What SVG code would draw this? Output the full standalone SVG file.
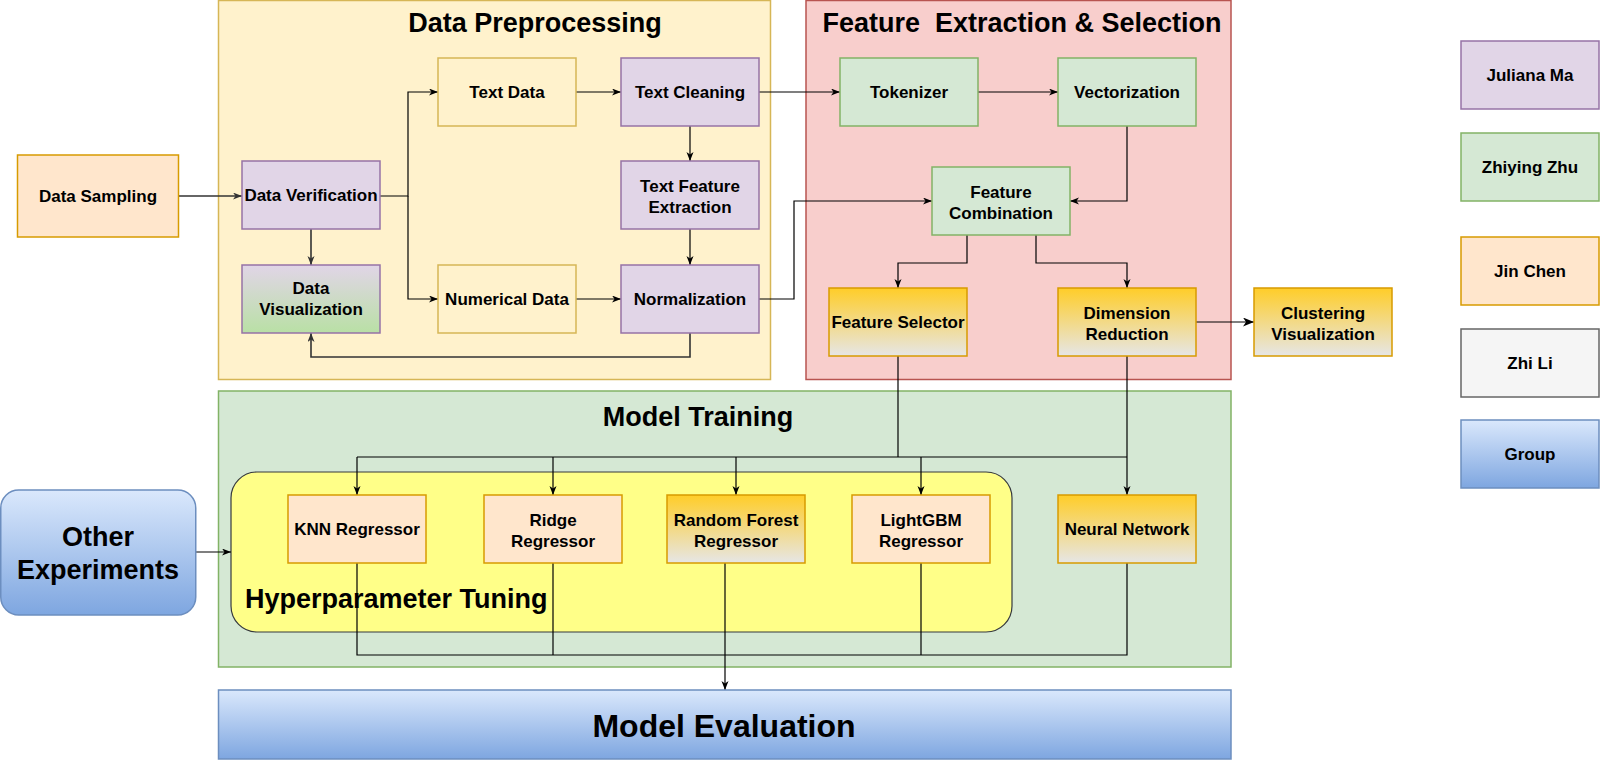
<svg xmlns="http://www.w3.org/2000/svg" width="1600" height="760" viewBox="0 0 1600 760">
<defs>
<linearGradient id="gGold" x1="0" y1="0" x2="0" y2="1"><stop offset="0" stop-color="#ffcd28"/><stop offset="1" stop-color="#e6e6e6"/></linearGradient>
<linearGradient id="gBlue" x1="0" y1="0" x2="0" y2="1"><stop offset="0" stop-color="#dae8fc"/><stop offset="1" stop-color="#7ea6e0"/></linearGradient>
<linearGradient id="gVis" x1="0" y1="0" x2="0" y2="1"><stop offset="0" stop-color="#e1d5e7"/><stop offset="1" stop-color="#b9e0a5"/></linearGradient>
<marker id="arr" markerWidth="10" markerHeight="8" refX="9" refY="3.5" orient="auto" markerUnits="userSpaceOnUse"><path d="M0,0 L9,3.5 L0,7 L2.5,3.5 Z" fill="#000"/></marker>
<marker id="arrG" markerWidth="10" markerHeight="8" refX="9" refY="3.5" orient="auto" markerUnits="userSpaceOnUse"><path d="M0,0 L9,3.5 L0,7 L2.5,3.5 Z" fill="#333"/></marker>
<marker id="arrB" markerWidth="12" markerHeight="10" refX="11" refY="4.5" orient="auto" markerUnits="userSpaceOnUse"><path d="M0,0 L11,4.5 L0,9 L3,4.5 Z" fill="#000"/></marker>
</defs>
<style>
text{font-family:"Liberation Sans",Arial,Helvetica,sans-serif;font-weight:bold;fill:#000;text-anchor:middle}
.n{font-size:17px}
.t{font-size:27px}
.purple{fill:#e1d5e7;stroke:#9673a6;stroke-width:1.5}
.green{fill:#d5e8d4;stroke:#82b366;stroke-width:1.5}
.orange{fill:#ffe6cc;stroke:#d79b00;stroke-width:1.5}
.ylw{fill:#fff2cc;stroke:#d6b656;stroke-width:1.5}
.gold{fill:url(#gGold);stroke:#d79b00;stroke-width:1.5}
.grey{fill:#f5f5f5;stroke:#666666;stroke-width:1.5}
.blue{fill:url(#gBlue);stroke:#6c8ebf;stroke-width:1.5}
.c{fill:none;stroke:#000;stroke-width:1.2}
.cg{fill:none;stroke:#333;stroke-width:1.6}
</style>

<g id="group-data-preprocessing">
<rect x="218.5" y="0.5" width="552" height="379" class="ylw"/>
<text class="t" x="535" y="32">Data Preprocessing</text>
</g>
<g id="group-feature-extraction">
<rect x="806" y="0.5" width="425" height="379" fill="#f8cecc" stroke="#b85450" stroke-width="1.5"/>
<text class="t" x="1022" y="32" xml:space="preserve">Feature  Extraction &amp; Selection</text>
</g>
<g id="group-model-training">
<rect x="218.5" y="391" width="1012.5" height="276" class="green"/>
<text class="t" x="698" y="426">Model Training</text>
</g>
<g id="group-hyperparameter-tuning">
<rect x="231" y="472" width="781" height="160" rx="26" ry="26" fill="#ffff88" stroke="#36393d" stroke-width="1.2"/>
<text class="t" x="245" y="608" style="text-anchor:start">Hyperparameter Tuning</text>
</g>

<g id="connectors">
<path class="cg" d="M178.6,196 L242,196" marker-end="url(#arrG)"/>
<path class="c" d="M380,196 L408,196 L408,92 L438,92" marker-end="url(#arr)"/>
<path class="c" d="M408,196 L408,299 L438,299" marker-end="url(#arr)"/>
<path class="cg" d="M311,229 L311,265" marker-end="url(#arrG)"/>
<path class="c" d="M576,92 L621,92" marker-end="url(#arr)"/>
<path class="c" d="M690,126 L690,161" marker-end="url(#arr)"/>
<path class="c" d="M690,229 L690,265" marker-end="url(#arr)"/>
<path class="c" d="M576,299 L621,299" marker-end="url(#arr)"/>
<path class="cg" d="M690,333 L690,357 L311,357 L311,333" marker-end="url(#arrG)"/>
<path class="c" d="M759,92 L840,92" marker-end="url(#arr)"/>
<path class="c" d="M978,92 L1058,92" marker-end="url(#arr)"/>
<path class="c" d="M1127,126 L1127,201 L1070,201" marker-end="url(#arr)"/>
<path class="c" d="M759,299 L794,299 L794,201 L932,201" marker-end="url(#arr)"/>
<path class="c" d="M967,235 L967,263 L898,263 L898,288" marker-end="url(#arr)"/>
<path class="c" d="M1036,235 L1036,263 L1127,263 L1127,288" marker-end="url(#arr)"/>
<path class="c" d="M1196,322 L1254,322" stroke-width="2" marker-end="url(#arrB)"/>
<path class="c" d="M898,356 L898,457"/>
<path class="c" d="M1127,356 L1127,495" marker-end="url(#arr)"/>
<path class="c" d="M357,457 L1127,457"/>
<path class="c" d="M357,457 L357,495" marker-end="url(#arr)"/>
<path class="c" d="M553,457 L553,495" marker-end="url(#arr)"/>
<path class="c" d="M736,457 L736,495" marker-end="url(#arr)"/>
<path class="c" d="M921,457 L921,495" marker-end="url(#arr)"/>
<path class="c" d="M357,563 L357,655 L1127,655 L1127,563"/>
<path class="c" d="M553,563 L553,655"/>
<path class="c" d="M921,563 L921,655"/>
<path class="c" d="M725,563 L725,690" marker-end="url(#arr)"/>
<path class="c" d="M196,552 L231,552" marker-end="url(#arr)"/>
</g>

<g id="node-data-sampling"><rect x="17.5" y="155" width="161" height="82" class="orange"/><text class="n" x="98" y="202">Data Sampling</text></g>
<g id="node-data-verification"><rect x="242" y="161" width="138" height="68" class="purple"/><text class="n" x="311" y="201">Data Verification</text></g>
<g id="node-data-visualization"><rect x="242" y="265" width="138" height="68" fill="url(#gVis)" stroke="#9673a6" stroke-width="1.5"/><text class="n" x="311" y="294">Data</text><text class="n" x="311" y="315">Visualization</text></g>
<g id="node-text-data"><rect x="438" y="58" width="138" height="68" class="ylw"/><text class="n" x="507" y="98">Text Data</text></g>
<g id="node-text-cleaning"><rect x="621" y="58" width="138" height="68" class="purple"/><text class="n" x="690" y="98">Text Cleaning</text></g>
<g id="node-text-feature-extraction"><rect x="621" y="161" width="138" height="68" class="purple"/><text class="n" x="690" y="192">Text Feature</text><text class="n" x="690" y="213">Extraction</text></g>
<g id="node-numerical-data"><rect x="438" y="265" width="138" height="68" class="ylw"/><text class="n" x="507" y="305">Numerical Data</text></g>
<g id="node-normalization"><rect x="621" y="265" width="138" height="68" class="purple"/><text class="n" x="690" y="305">Normalization</text></g>
<g id="node-tokenizer"><rect x="840" y="58" width="138" height="68" class="green"/><text class="n" x="909" y="98">Tokenizer</text></g>
<g id="node-vectorization"><rect x="1058" y="58" width="138" height="68" class="green"/><text class="n" x="1127" y="98">Vectorization</text></g>
<g id="node-feature-combination"><rect x="932" y="167" width="138" height="68" class="green"/><text class="n" x="1001" y="198">Feature</text><text class="n" x="1001" y="219">Combination</text></g>
<g id="node-feature-selector"><rect x="829" y="288" width="138" height="68" class="gold"/><text class="n" x="898" y="328">Feature Selector</text></g>
<g id="node-dimension-reduction"><rect x="1058" y="288" width="138" height="68" class="gold"/><text class="n" x="1127" y="319">Dimension</text><text class="n" x="1127" y="340">Reduction</text></g>
<g id="node-clustering-visualization"><rect x="1254" y="288" width="138" height="68" class="gold"/><text class="n" x="1323" y="319">Clustering</text><text class="n" x="1323" y="340">Visualization</text></g>
<g id="node-knn"><rect x="288" y="495" width="138" height="68" class="orange"/><text class="n" x="357" y="535">KNN Regressor</text></g>
<g id="node-ridge"><rect x="484" y="495" width="138" height="68" class="orange"/><text class="n" x="553" y="526">Ridge</text><text class="n" x="553" y="547">Regressor</text></g>
<g id="node-random-forest"><rect x="667" y="495" width="138" height="68" class="gold"/><text class="n" x="736" y="526">Random Forest</text><text class="n" x="736" y="547">Regressor</text></g>
<g id="node-lightgbm"><rect x="852" y="495" width="138" height="68" class="orange"/><text class="n" x="921" y="526">LightGBM</text><text class="n" x="921" y="547">Regressor</text></g>
<g id="node-neural-network"><rect x="1058" y="495" width="138" height="68" class="gold"/><text class="n" x="1127" y="535">Neural Network</text></g>
<g id="node-other-experiments"><rect x="0.75" y="490" width="195" height="125" rx="18" ry="18" class="blue"/><text class="t" x="98" y="546">Other</text><text class="t" x="98" y="579">Experiments</text></g>
<g id="node-model-evaluation"><rect x="218.5" y="690" width="1012.5" height="69" class="blue"/><text x="724" y="737" style="font-size:32px">Model Evaluation</text></g>

<g id="legend-juliana"><rect x="1461" y="41" width="138" height="68" class="purple"/><text class="n" x="1530" y="81">Juliana Ma</text></g>
<g id="legend-zhiying"><rect x="1461" y="133" width="138" height="68" class="green"/><text class="n" x="1530" y="173">Zhiying Zhu</text></g>
<g id="legend-jin"><rect x="1461" y="237" width="138" height="68" class="orange"/><text class="n" x="1530" y="277">Jin Chen</text></g>
<g id="legend-zhili"><rect x="1461" y="329" width="138" height="68" class="grey"/><text class="n" x="1530" y="369">Zhi Li</text></g>
<g id="legend-group"><rect x="1461" y="420" width="138" height="68" class="blue"/><text class="n" x="1530" y="460">Group</text></g>
</svg>
